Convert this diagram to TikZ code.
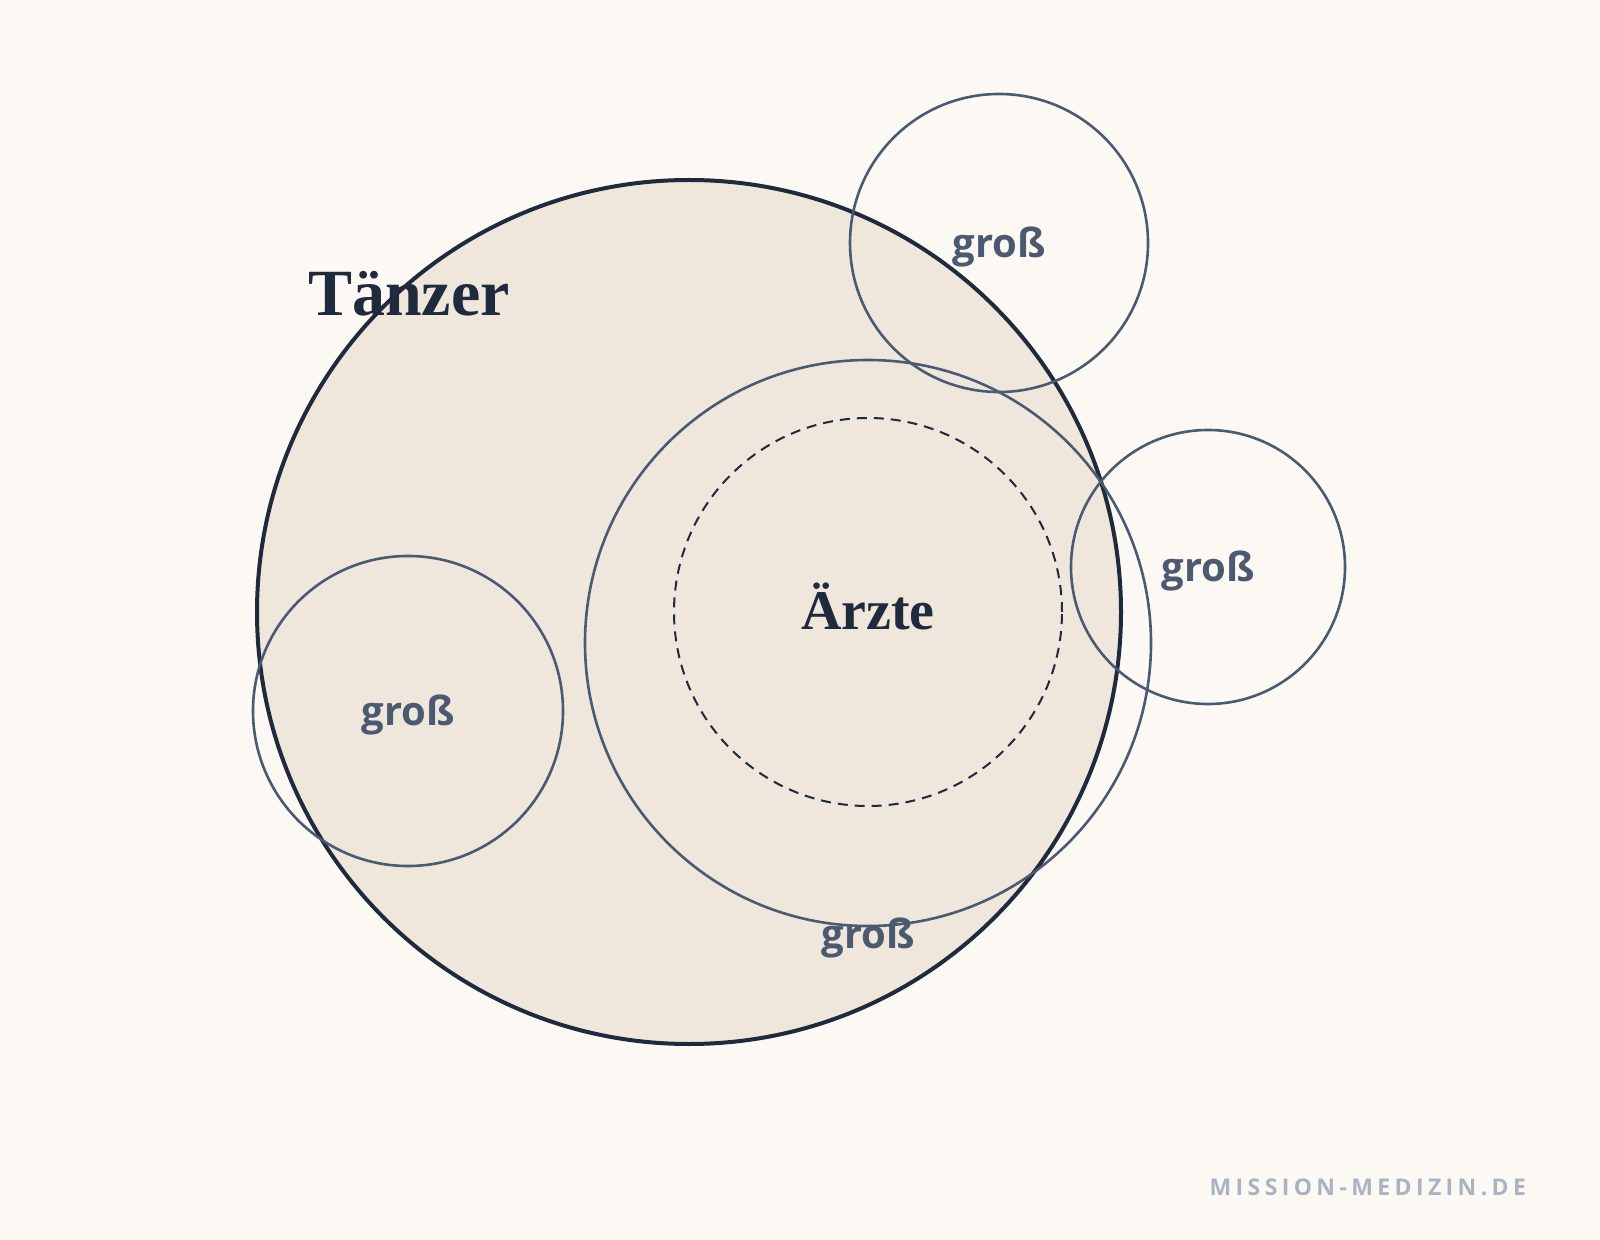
\documentclass[tikz,border=0pt]{standalone}
\usepackage{fontspec}
\setmainfont{Liberation Serif}
\setsansfont{Open Sans}
\definecolor{paper}{HTML}{FCF9F4}
\definecolor{sand}{HTML}{EFE6DC}
\definecolor{navy}{HTML}{1F2A3C}
\definecolor{slate}{HTML}{4B5A71}
\definecolor{mist}{HTML}{A9B3C2}
\tikzset{
		bigset/.style   = {circle, draw=navy, line width=2pt, fill=sand,
				inner sep=0pt},
		subset/.style   = {circle, draw=slate, line width=1.3pt, inner sep=0pt},
		core/.style     = {circle, draw=navy, line width=1pt,
				dash pattern=on 5pt off 3.5pt, inner sep=0pt},
		setname/.style  = {text=navy, font=\bfseries\fontsize{33}{36}\selectfont},
		corename/.style = {setname, yshift=3pt, font=\bfseries\fontsize{28}{32}\selectfont},
		attr/.style     = {text=slate, yshift=-2.2pt,
				font=\sffamily\bfseries\fontsize{20}{24}\selectfont},
		brand/.style    = {text=mist, anchor=base east,
				font=\sffamily\bfseries\fontsize{11.5}{14}\selectfont\addfontfeatures{LetterSpace=19}}
	}

\begin{document}
\begin{tikzpicture}
				[x=0.5pt, y=-0.5pt]
				\fill[paper] (0,0) rectangle (1600,1240);
				\useasboundingbox (0,0) rectangle (1600,1240);
				% sets
				\node [bigset, minimum size=432pt] (dancers) at (689,612) {};
				\node [subset, minimum size=149pt] (topset)   at (999,243)  {};
				\node [subset, minimum size=137pt] (rightset) at (1208,567) {};
				\node [subset, minimum size=155pt] (leftset)  at (408,711)  {};
				\node [subset, minimum size=283pt] (midset)   at (868,643)  {};
				\node [core,   minimum size=194pt] (doctors)  at (868,612)  {};
				% labels
				\node [setname]  (dancerlabel) at (409,294) {Tänzer};
				\node [corename] (doctorlabel) at (doctors.center) {Ärzte};
				\node [attr] (toplabel)   at (topset.center)   {groß};
				\node [attr] (rightlabel) at (rightset.center) {groß};
				\node [attr] (leftlabel)  at (leftset.center)  {groß};
				\node [attr] (midlabel)   at (868,934) {groß};
				\node [brand] (site) at (1533,1195) {MISSION-MEDIZIN.DE};
			\end{tikzpicture}
\end{document}
